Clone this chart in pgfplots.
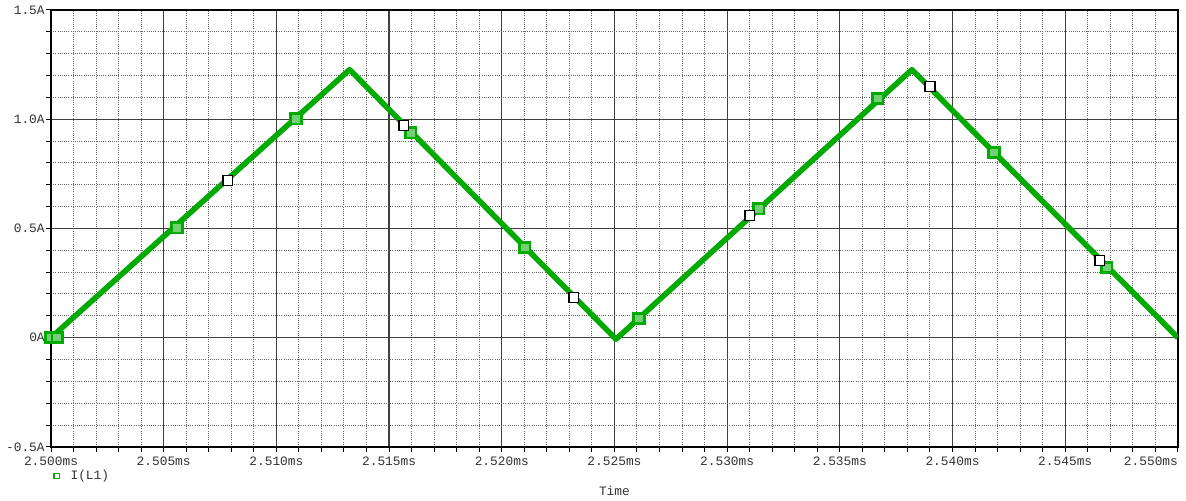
\documentclass[border=0pt]{standalone}
\usepackage{pgfplots}
\pgfplotsset{compat=1.18}
\usepackage{fontspec}
\setmainfont{Liberation Mono}
\definecolor{trace}{RGB}{0,170,0}
\definecolor{lbl}{RGB}{50,50,50}
\newcommand{\tfont}{\fontsize{6.5}{7}\selectfont}
\begin{document}
\begin{tikzpicture}
\useasboundingbox (-25.8pt,-27.3pt) rectangle (574.2pt,226.06pt);
\begin{axis}[
  scale only axis, width=570.1pt, height=221pt,
  xmin=2.5, xmax=2.55, ymin=-0.5, ymax=1.5,
  xtick={2.5,2.505,2.51,2.515,2.52,2.525,2.53,2.535,2.54,2.545,2.55},
  xticklabels={2.500ms,2.505ms,2.510ms,2.515ms,2.520ms,2.525ms,2.530ms,2.535ms,2.540ms,2.545ms,\makebox[0pt][r]{2.550ms}},
  ytick={-0.5,0,0.5,1,1.5},
  yticklabels={-0.5A,0A,0.5A,1.0A,1.5A},
  minor x tick num=4, minor y tick num=4,
  grid=both,
  major grid style={black!75, line width=0.6pt},
  minor grid style={black!60, line width=0.5pt, dash pattern=on 0.5pt off 0.6pt},
  axis line style={black, line width=0.7pt},
  tick align=outside, tick pos=left,
  major tick length=2.5pt, minor tick length=2.5pt,
  tick style={black, line width=0.5pt},
  ticklabel style={font=\tfont, text=lbl},
  yticklabel style={inner sep=0.5pt},
  xticklabel style={inner sep=1pt, yshift=-1.5pt},
  xlabel={Time},
  xlabel style={at={(axis description cs:0.5,0)}, anchor=center, yshift=-22.3pt, font=\tfont, text=lbl},
  legend style={at={(axis description cs:0,0)}, anchor=west, xshift=1pt, yshift=-14.7pt,
    draw=none, fill=none, inner sep=0pt, font=\tfont, text=lbl,
    /tikz/every even column/.append style={column sep=0pt}},
  legend cell align=left,
]
\addplot[trace, line width=2.8pt, line join=round,
  legend image code/.code={\draw[trace, line width=0.6pt] (0pt,-1.4pt) rectangle (2.8pt,1.4pt); \path (5pt,0pt);}]
  coordinates {(2.5,0) (2.51325,1.227) (2.52507,-0.007) (2.5382,1.227) (2.55,0)};
\addlegendentry{I(L1)}
\addplot[only marks, mark=square*, mark size=2.6pt, mark options={draw=trace, fill=trace!55, line width=1.4pt}, forget plot]
  coordinates {(2.5,0) (2.50027,0) (2.50559,0.503) (2.51087,1.002) (2.51597,0.938) (2.52103,0.412) (2.52609,0.087) (2.53141,0.590) (2.53669,1.094) (2.54184,0.847) (2.54685,0.320)};
\addplot[only marks, mark=square*, mark size=2.5pt, mark options={draw=black, fill=white, line width=0.6pt}, forget plot]
  coordinates {(2.50785,0.719) (2.51566,0.970) (2.5232,0.183) (2.53101,0.558) (2.5390,1.149) (2.54654,0.352)};
\end{axis}
\end{tikzpicture}
\end{document}
